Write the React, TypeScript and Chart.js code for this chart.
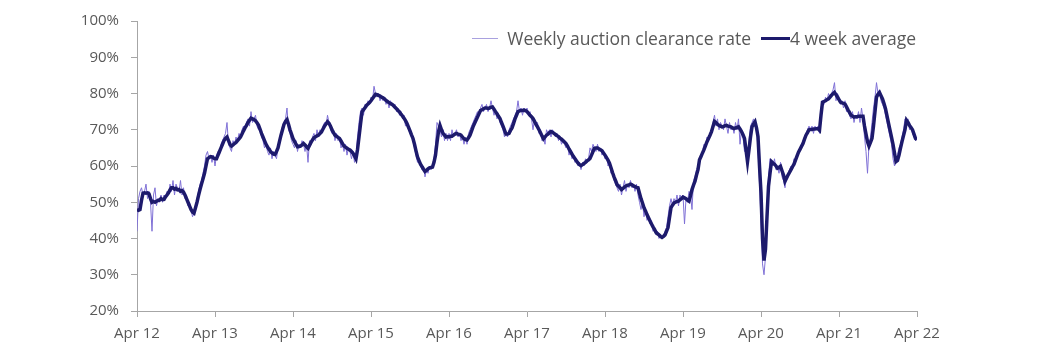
import React, { useEffect, useRef } from "react";
import { Chart, registerables } from "chart.js";

Chart.register(...registerables);

const yearLabels = ["Apr 12", "Apr 13", "Apr 14", "Apr 15", "Apr 16", "Apr 17", "Apr 18", "Apr 19", "Apr 20", "Apr 21", "Apr 22"];
const yTicks = [20, 30, 40, 50, 60, 70, 80, 90, 100];

// Weekly auction clearance rate (%), one value per week starting Apr 2012
const weeklyRate = [
  42, 51, 53, 54, 52, 53, 55, 51, 53, 50, 42, 52, 54, 49, 51, 50, 52, 50, 52, 51, 53, 52, 55, 53, 56, 52,
  55, 54, 53, 56, 52, 54, 51, 52, 49, 50, 48, 46, 47, 49, 51, 53, 55, 56, 58, 60, 63, 64, 62, 63, 61, 63,
  60, 63, 64, 63, 66, 67, 68, 69, 72, 66, 65, 64, 67, 66, 68, 67, 69, 68, 70, 71, 70, 72, 73, 71, 75, 72,
  73, 74, 71, 70, 70, 68, 67, 65, 66, 64, 63, 65, 62, 64, 63, 62, 65, 66, 69, 71, 72, 73, 76, 70, 69, 67,
  66, 65, 67, 64, 66, 65, 67, 66, 64, 66, 61, 67, 66, 68, 69, 67, 70, 68, 70, 69, 71, 72, 71, 74, 72, 70,
  69, 70, 67, 69, 67, 68, 65, 66, 64, 66, 63, 65, 64, 62, 64, 61, 63, 68, 72, 75, 76, 74, 77, 76, 78, 77,
  79, 78, 82, 80, 79, 80, 78, 79, 78, 79, 77, 78, 76, 78, 77, 76, 77, 75, 76, 74, 75, 73, 74, 71, 72, 70,
  69, 68, 67, 65, 63, 61, 62, 60, 59, 60, 57, 59, 58, 60, 59, 60, 62, 66, 72, 71, 70, 68, 70, 67, 69, 67,
  69, 67, 70, 68, 69, 70, 68, 69, 67, 68, 66, 68, 66, 69, 70, 71, 72, 73, 74, 75, 74, 76, 77, 75, 76, 77,
  75, 76, 78, 76, 74, 75, 73, 74, 72, 71, 70, 68, 69, 68, 70, 71, 72, 73, 74, 75, 78, 75, 76, 74, 76, 75,
  76, 74, 75, 73, 70, 73, 71, 72, 69, 70, 67, 68, 66, 70, 69, 70, 68, 70, 69, 68, 69, 67, 68, 66, 67, 66,
  65, 66, 63, 64, 62, 63, 61, 62, 60, 61, 59, 61, 60, 62, 61, 62, 65, 64, 66, 65, 64, 66, 64, 65, 63, 64,
  62, 63, 60, 61, 58, 59, 56, 55, 54, 53, 55, 52, 54, 56, 53, 55, 54, 56, 54, 55, 53, 55, 52, 50, 48, 50,
  46, 48, 45, 46, 44, 45, 42, 43, 41, 42, 40, 41, 40, 41, 42, 43, 46, 49, 51, 49, 51, 50, 52, 49, 52, 51,
  52, 44, 51, 50, 53, 52, 48, 56, 57, 59, 60, 62, 63, 64, 66, 65, 68, 67, 69, 70, 72, 74, 71, 73, 70, 72,
  71, 70, 73, 71, 69, 72, 70, 71, 69, 72, 70, 73, 66, 70, 68, 64, 65, 62, 67, 71, 72, 73, 71, 70, 65, 55,
  45, 33, 30, 35, 49, 57, 62, 61, 60, 62, 59, 60, 58, 61, 57, 56, 54, 57, 58, 59, 60, 59, 62, 61, 63, 64,
  65, 66, 67, 68, 69, 70, 71, 70, 71, 69, 71, 70, 71, 69, 76, 78, 77, 79, 78, 80, 79, 80, 81, 83, 78, 80,
  79, 77, 78, 76, 78, 75, 76, 74, 73, 75, 72, 74, 73, 75, 72, 76, 73, 68, 64, 58, 66, 68, 72, 76, 79, 83,
  80, 81, 78, 77, 76, 74, 72, 70, 68, 66, 62, 60, 61, 63, 65, 66, 68, 70, 73, 72, 73, 70, 71, 69, 68, 67, 68,
];

// 4 week average (%), same weeks
const fourWeekAvg = [
  48.0, 47.8, 48.0, 50.5, 52.5, 52.6, 52.5, 52.6, 52.3, 51.0, 50.0, 50.2, 50.0, 50.3, 50.5, 50.6, 51.0, 50.7, 50.8, 51.5, 52.0, 52.6, 53.4, 54.0, 54.0, 53.6,
  53.8, 53.4, 53.5, 53.0, 53.2, 52.8, 52.0, 51.0, 50.0, 49.0, 48.0, 47.3, 47.0, 48.5, 50.0, 51.8, 53.5, 55.0, 56.5, 58.0, 60.0, 62.0, 62.3, 62.6, 62.5, 62.2,
  62.0, 62.0, 63.0, 64.0, 65.0, 66.0, 67.0, 67.6, 68.0, 67.0, 66.0, 65.5, 65.8, 66.2, 66.5, 67.0, 67.5, 68.0, 68.8, 69.7, 70.5, 71.2, 72.0, 72.6, 73.2, 73.0,
  72.8, 72.5, 71.9, 71.3, 70.2, 69.0, 68.0, 67.0, 66.0, 65.3, 64.6, 64.0, 63.6, 63.3, 63.2, 64.0, 65.0, 66.8, 68.5, 70.0, 71.5, 72.3, 72.8, 71.5, 70.0, 68.8,
  67.6, 66.8, 66.0, 65.3, 65.4, 65.5, 65.8, 66.2, 65.8, 65.3, 64.9, 65.7, 66.5, 67.2, 67.8, 68.1, 68.3, 68.5, 69.0, 69.4, 70.2, 71.0, 71.6, 72.2, 71.8, 71.0,
  70.0, 69.2, 68.5, 68.2, 67.9, 67.6, 66.9, 66.2, 65.5, 65.2, 64.9, 64.6, 64.4, 64.0, 63.5, 62.8, 62.0, 64.5, 68.0, 71.5, 74.9, 75.5, 76.1, 76.7, 77.1, 77.5,
  78.0, 78.6, 79.2, 79.8, 79.7, 79.5, 79.3, 79.0, 78.8, 78.5, 78.1, 77.8, 77.5, 77.2, 77.0, 76.7, 76.2, 75.8, 75.3, 74.9, 74.3, 73.8, 73.2, 72.5, 71.7, 70.7,
  69.7, 68.6, 67.6, 66.0, 64.2, 62.5, 61.5, 60.5, 59.8, 59.1, 58.5, 58.8, 59.2, 59.5, 59.6, 59.7, 61.0, 63.0, 66.5, 69.5, 71.2, 70.0, 69.0, 68.5, 68.0, 68.1,
  68.0, 68.2, 68.2, 68.5, 68.8, 69.0, 68.8, 68.7, 68.5, 68.0, 67.5, 67.3, 67.2, 67.8, 68.5, 69.6, 70.8, 71.7, 72.6, 73.5, 74.4, 75.3, 75.5, 75.8, 76.0, 76.0,
  75.9, 76.0, 76.2, 76.3, 75.7, 75.0, 74.4, 73.7, 73.1, 72.0, 71.0, 69.9, 68.8, 68.8, 69.0, 69.8, 70.5, 71.7, 73.0, 74.0, 75.0, 75.2, 75.3, 75.3, 75.4, 75.3,
  75.0, 74.5, 74.0, 73.6, 73.1, 72.3, 71.5, 70.8, 70.0, 69.2, 68.3, 67.5, 68.0, 68.5, 68.8, 69.2, 69.5, 69.3, 69.0, 68.7, 68.4, 68.1, 67.7, 67.4, 67.0, 66.6,
  66.2, 65.5, 64.7, 64.0, 63.3, 62.6, 62.0, 61.4, 60.8, 60.4, 60.1, 60.4, 60.7, 61.0, 61.4, 61.7, 62.1, 63.0, 64.0, 64.9, 65.0, 65.0, 64.7, 64.5, 64.2, 63.6,
  63.0, 62.3, 61.6, 60.8, 59.5, 58.2, 57.0, 56.0, 54.9, 54.4, 54.0, 53.5, 53.8, 54.2, 54.5, 54.7, 54.8, 55.0, 54.8, 54.5, 54.3, 54.1, 54.0, 52.5, 51.0, 49.8,
  48.5, 47.6, 46.6, 45.7, 44.8, 44.0, 43.2, 42.5, 41.7, 41.3, 41.0, 40.6, 40.3, 40.6, 41.0, 42.0, 43.0, 45.8, 48.5, 49.2, 49.8, 50.0, 50.2, 50.3, 50.7, 51.0,
  51.4, 51.2, 51.0, 50.6, 50.3, 51.8, 53.5, 54.7, 55.8, 57.5, 59.0, 61.7, 62.6, 63.6, 64.5, 65.6, 66.7, 67.6, 68.5, 69.5, 70.9, 72.3, 72.0, 71.5, 71.2, 71.0,
  70.8, 70.9, 71.1, 71.2, 71.0, 70.9, 70.8, 70.5, 70.3, 70.5, 70.6, 70.8, 70.2, 69.5, 68.6, 67.6, 64.5, 61.2, 64.5, 68.0, 70.8, 71.6, 72.2, 70.5, 68.1, 60.0,
  52.6, 40.0, 33.9, 37.1, 46.0, 54.4, 58.0, 61.2, 60.8, 60.5, 60.0, 59.4, 59.6, 59.9, 58.7, 57.5, 55.8, 56.6, 57.5, 58.2, 59.0, 59.8, 60.5, 61.6, 62.7, 63.8,
  64.6, 65.4, 66.2, 67.4, 68.5, 69.2, 70.0, 70.1, 70.1, 70.2, 70.2, 70.3, 70.3, 69.9, 74.0, 77.6, 77.8, 78.0, 78.3, 78.5, 79.0, 79.5, 79.9, 80.3, 79.7, 79.0,
  78.3, 77.6, 77.4, 77.3, 77.1, 76.3, 75.5, 74.8, 74.0, 73.8, 73.5, 73.6, 73.6, 73.7, 73.7, 73.7, 73.7, 71.0, 68.8, 66.7, 65.5, 66.5, 67.6, 71.0, 75.0, 79.0,
  79.8, 80.3, 79.4, 78.5, 77.2, 75.8, 73.8, 71.8, 69.9, 68.0, 66.0, 63.6, 61.2, 61.5, 63.0, 64.9, 66.7, 68.4, 70.0, 72.6, 72.0, 71.2, 70.6, 70.0, 68.8, 67.6, 67.3,
];

const WEEKS_PER_YEAR = 52;
const THIN_COLOR = "#7f70d6";
const THICK_COLOR = "#1d1a6c";
const AXIS_COLOR = "#a6a6a6";
const TEXT_COLOR = "#595959";
const FONT = "'Open Sans', 'DejaVu Sans', sans-serif";

export default function App() {
  const canvasRef = useRef<HTMLCanvasElement | null>(null);

  useEffect(() => {
    if (!canvasRef.current) return;
    const chart = new Chart(canvasRef.current, {
      type: "line",
      data: {
        datasets: [
          {
            label: "Weekly auction clearance rate",
            data: weeklyRate.map((v, i) => ({ x: i, y: v })),
            borderColor: THIN_COLOR,
            borderWidth: 1,
            pointRadius: 0,
            tension: 0,
            order: 2,
          },
          {
            label: "4 week average",
            data: fourWeekAvg.map((v, i) => ({ x: i, y: v })),
            borderColor: THICK_COLOR,
            borderWidth: 3.5,
            pointRadius: 0,
            tension: 0,
            order: 1,
          },
        ],
      },
      options: {
        animation: false,
        responsive: false,
        maintainAspectRatio: false,
        layout: { padding: { left: 0, right: 135, top: 18, bottom: 0 } },
        plugins: { legend: { display: false }, tooltip: { enabled: false } },
        scales: {
          x: {
            type: "linear",
            min: 0,
            max: WEEKS_PER_YEAR * (yearLabels.length - 1),
            afterBuildTicks: (scale: any) => {
              scale.ticks = yearLabels.map((_, i) => ({ value: i * WEEKS_PER_YEAR }));
            },
            afterFit: (scale: any) => {
              scale.height = 47;
            },
            ticks: {
              autoSkip: false,
              maxRotation: 0,
              padding: 8,
              color: TEXT_COLOR,
              font: { family: FONT, size: 15 },
              callback: (v: any) => yearLabels[Math.round(Number(v) / WEEKS_PER_YEAR)],
            },
            grid: { drawOnChartArea: false, drawTicks: true, tickLength: 6, color: AXIS_COLOR },
            border: { display: true, color: AXIS_COLOR, width: 1 },
          },
          y: {
            min: 20,
            max: 100,
            afterBuildTicks: (scale: any) => {
              scale.ticks = yTicks.map((v) => ({ value: v }));
            },
            afterFit: (scale: any) => {
              scale.width = 137;
            },
            ticks: {
              padding: 12,
              color: TEXT_COLOR,
              font: { family: FONT, size: 15 },
              callback: (v: any) => v + "%",
            },
            grid: { drawOnChartArea: false, drawTicks: true, tickLength: 6, color: AXIS_COLOR },
            border: { display: true, color: AXIS_COLOR, width: 1 },
          },
        },
      },
    });
    return () => chart.destroy();
  }, []);

  return (
    <div style={{ position: "fixed", left: 0, top: 0, width: 1052, height: 358, background: "#fff" }}>
      <canvas ref={canvasRef} width={1052} height={358} style={{ position: "absolute", left: 0, top: 0 }} />
      <div
        style={{
          position: "absolute",
          right: 1052 - 916,
          top: 27,
          display: "flex",
          alignItems: "center",
          fontFamily: FONT,
          fontSize: 17.5,
          color: TEXT_COLOR,
          lineHeight: "22px",
          whiteSpace: "nowrap",
        }}
      >
        <span style={{ display: "inline-block", width: 26, height: 1, background: "#a9a1df", marginRight: 9 }} />
        <span>Weekly auction clearance rate</span>
        <span style={{ display: "inline-block", width: 29, height: 3, background: THICK_COLOR, marginLeft: 10 }} />
        <span>4 week average</span>
      </div>
    </div>
  );
}
